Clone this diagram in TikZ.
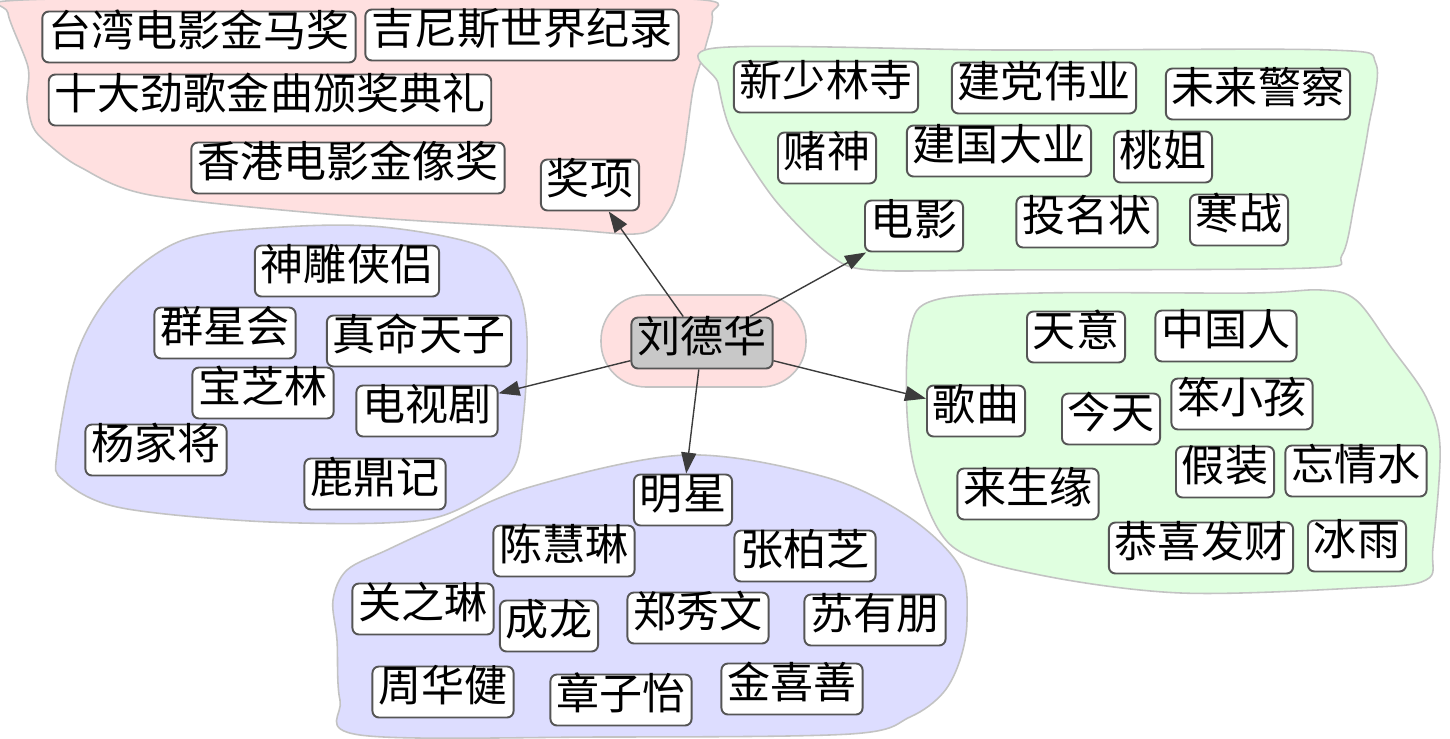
\documentclass[tikz,border=0pt]{standalone}
\usepackage{fontspec}
\newfontfamily\cjk{Noto Sans CJK SC}
\usetikzlibrary{arrows.meta}
\definecolor{pinkfill}{RGB}{255,224,224}
\definecolor{greenfill}{RGB}{224,255,224}
\definecolor{bluefill}{RGB}{221,221,255}
\definecolor{blobline}{RGB}{195,195,195}
\definecolor{boxline}{RGB}{85,85,85}
\definecolor{centerfill}{RGB}{200,200,200}
\definecolor{edgecol}{RGB}{60,60,60}
\tikzset{
  blob/.style={draw=blobline, line width=0.9pt},
  box/.style={draw=boxline, line width=1.1pt, fill=white, rounded corners=0.13cm,
    inner xsep=0.12cm, inner ysep=0pt, minimum height=1.02cm,
    text height=1.06em, text depth=0em,
    font=\cjk\fontsize{24.5pt}{26pt}\selectfont},
  hub/.style={box, fill=centerfill},
  link/.style={draw=edgecol, line width=0.8pt, -{Triangle[length=0.42cm,width=0.3cm]}}
}
\begin{document}
\begin{tikzpicture}[x=0.02cm,y=-0.02cm]
\useasboundingbox (0,0) rectangle (1450,738);
% clusters
\path[blob, fill=pinkfill] plot[smooth cycle, tension=0.5] coordinates {
 (22,0) (360,-4) (690,-1) (712,14) (706,45) (694,85) (688,125) (683,160) (672,205) (643,233)
 (560,229) (350,216) (150,195) (80,167) (47,143) (33,127) (27,100) (28,67) (8,13)};
\path[blob, fill=greenfill] plot[smooth cycle, tension=0.5] coordinates {
 (715,48) (1000,50) (1330,50) (1376,64) (1368,130) (1355,200) (1342,255) (1310,268)
 (1000,270) (870,270) (830,255) (775,200) (732,133) (718,83)};
\path[blob, fill=bluefill] plot[smooth cycle, tension=0.55] coordinates {
 (383,227) (483,247) (517,287) (527,337) (523,420) (510,473) (450,513) (383,523)
 (250,521) (117,507) (63,480) (57,453) (77,353) (117,287) (183,240) (283,227)};
\path[blob, fill=greenfill] plot[smooth cycle, tension=0.55] coordinates {
 (935,300) (1040,293) (1251,293) (1321,290) (1356,300) (1391,347) (1426,397) (1440,447)
 (1433,547) (1426,580) (1356,588) (1181,593) (1040,575) (953,547) (918,480) (907,413) (910,330)};
\path[blob, fill=bluefill] plot[smooth cycle, tension=0.55] coordinates {
 (686,455) (825,477) (909,517) (960,567) (967,620) (960,660) (943,693) (910,717) (850,734)
 (600,737) (360,735) (340,700) (337,640) (333,600) (347,570) (387,550) (437,527) (530,487)};
\path[blob, fill=pinkfill, rounded corners=0.9cm] (601,295) rectangle (806,387);
% center
\node[hub] (c) at (702,343) {刘德华};
% awards
\node[box] (jx) at (590,185) {奖项};
\node[box] (a1) at (199,37) {台湾电影金马奖};
\node[box] (a2) at (522,35) {吉尼斯世界纪录};
\node[box] (a3) at (270,100) {十大劲歌金曲颁奖典礼};
\node[box] (a4) at (348,168) {香港电影金像奖};
% movies
\node[box] (dy) at (914,226) {电影};
\node[box] (m1) at (826,87) {新少林寺};
\node[box] (m2) at (1044,88) {建党伟业};
\node[box] (m3) at (1258,94) {未来警察};
\node[box] (m4) at (827,158) {赌神};
\node[box] (m5) at (999,151) {建国大业};
\node[box] (m6) at (1163,157) {桃姐};
\node[box] (m7) at (1087,222) {投名状};
\node[box] (m8) at (1239,220) {寒战};
% tv
\node[box] (ds) at (427,411) {电视剧};
\node[box] (t1) at (347,271) {神雕侠侣};
\node[box] (t2) at (225,333) {群星会};
\node[box] (t3) at (419,341) {真命天子};
\node[box] (t4) at (263,393) {宝芝林};
\node[box] (t5) at (156,450) {杨家将};
\node[box] (t6) at (375,484) {鹿鼎记};
% songs
\node[box] (gq) at (976,411) {歌曲};
\node[box] (s1) at (1076,337) {天意};
\node[box] (s2) at (1226,336) {中国人};
\node[box] (s3) at (1111,419) {今天};
\node[box] (s4) at (1242,404) {笨小孩};
\node[box] (s5) at (1225,472) {假装};
\node[box] (s6) at (1356,471) {忘情水};
\node[box] (s7) at (1028,494) {来生缘};
\node[box] (s8) at (1201,548) {恭喜发财};
\node[box] (s9) at (1357,546) {冰雨};
% stars
\node[box] (mx) at (683,500) {明星};
\node[box] (p1) at (564,551) {陈慧琳};
\node[box] (p2) at (805,556) {张柏芝};
\node[box] (p3) at (423,609) {关之琳};
\node[box] (p4) at (549,626) {成龙};
\node[box] (p5) at (698,618) {郑秀文};
\node[box] (p6) at (875,620) {苏有朋};
\node[box] (p7) at (443,692) {周华健};
\node[box] (p8) at (621,700) {章子怡};
\node[box] (p9) at (792,689) {金喜善};
% edges
\draw[link] (c) -- (jx);
\draw[link] (c) -- (dy);
\draw[link] (c) -- (ds);
\draw[link] (c) -- (gq);
\draw[link] (c) -- (mx);
\end{tikzpicture}
\end{document}
